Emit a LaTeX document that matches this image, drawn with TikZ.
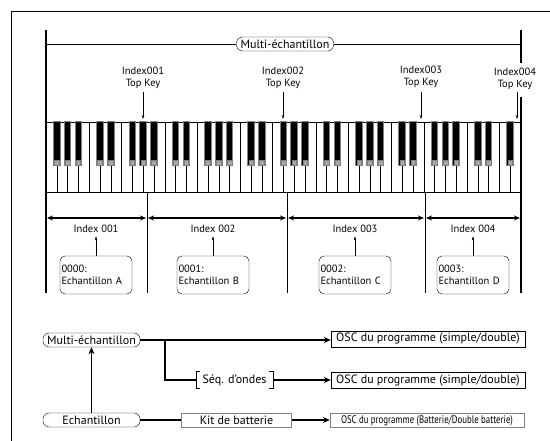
\documentclass[tikz,border=0pt]{standalone}
\usepackage{fontspec}
\setmainfont{PT Sans}
\usetikzlibrary{arrows.meta,positioning}

\begin{document}
\begin{tikzpicture}[x=1pt,y=-1pt,font=\fontsize{10.5}{12}\selectfont,
      pill/.style={draw,rounded corners=6pt,minimum width=97pt,minimum height=14pt,inner sep=1pt,
      font=\fontsize{12}{13}\selectfont},
      smpbox/.style={draw,rounded corners=5pt,align=left,text width=69pt,minimum width=72pt,
      minimum height=38pt,inner sep=1.5pt},
      oscbox/.style={draw,minimum width=194pt,minimum height=16pt,inner sep=1pt,
      font=\fontsize{12}{13}\selectfont},
      topkey/.style={align=center,inner sep=1pt},
      thinarr/.style={thin,-{Stealth[length=4pt,width=2.5pt]}},
      dblarr/.style={line width=1.5pt,{Stealth[length=6pt,width=5pt]}-{Stealth[length=6pt,width=5pt]}},
      link/.style={line width=1.6pt},
      linkarr/.style={line width=1.6pt,-{Stealth[length=7pt,width=6pt]}}]

    \useasboundingbox (0,0) rectangle (550,441);
    \draw[semithick] (11,441) -- (11,11) -- (550,11);

    % multi-sample span
    \node[pill] (mtop) at (285,44) {Multi-échantillon};
    \draw[semithick] (46,44) -- (mtop) -- (521,44);
    \draw[line width=2pt] (46,30) -- (46,293);
    \draw[line width=2pt] (521,30) -- (521,63) (521,97) -- (521,293);

    % top keys
    \foreach \x/\n/\y in {143/001/78,283/002/78,421/003/77,515/004/79}
      \node[topkey] (tk\n) at (\x,\y) {Index\n\\Top Key};
    \foreach \x/\n in {143/001,283/002,421/003,517/004}
      \draw[thinarr] (\x,92) -- (\x,119);

    % keyboard
    \def\kw{10.795}
    \draw[semithick] (46,122) rectangle (521,192);
    \foreach \i in {1,...,43}
      \draw[thin] (46+\i*\kw,122) -- (46+\i*\kw,192);
    \foreach \i in {1,...,43}{
      \pgfmathtruncatemacro\nt{mod(\i-1,7)}
      \ifnum\nt=3 \else \ifnum\nt=6 \else
        \filldraw[fill=black,draw=gray,line width=1pt] (46+\i*\kw-3.3,122) rectangle (46+\i*\kw+3.3,166);
        \filldraw[fill=gray!70,draw=gray] (46+\i*\kw-2.3,160) rectangle (46+\i*\kw+2.3,165);
      \fi\fi
    }

    % index ranges
    \foreach \x in {147,287,425}
      \draw[thin] (\x,192) -- (\x,293);
    \foreach \a/\b/\c/\n/\s/\t in {47/146/96/1/0000/A,148/286/213/2/0001/B,288/424/355/3/0002/C,426/520/473/4/0003/D}{
      \draw[dblarr] (\a,218) -- (\b,218);
      \node (idx\n) at (\c,229) {Index 00\n};
      \node[smpbox] (smp\n) at (\c,275) {\s:\\Echantillon \t};
      \draw[thinarr] (smp\n) -- (idx\n);
    }

    % lower chart
    \node[pill] (multi) at (91.5,340) {Multi-échantillon};
    \node[pill] (ech) at (91.5,420) {Echantillon};
    \node[oscbox] (osc1) at (428,339) {OSC du programme (simple/double)};
    \node[oscbox] (osc2) at (428,380.5) {OSC du programme (simple/double)};
    \node[oscbox,draw=gray,minimum height=14pt] (osc3) at (427,420.5)
      {\fontsize{11}{12}\selectfont\scalebox{0.8}[1]{OSC du programme (Batterie/Double batterie)}};
    \node[draw=gray,minimum width=110pt,minimum height=14pt,inner sep=1pt,
      font=\fontsize{12}{13}\selectfont] (kit) at (236.5,420) {Kit de batterie};
    \node[minimum width=77pt,minimum height=17pt,inner sep=1pt,
      font=\fontsize{12}{13}\selectfont] (seq) at (234.5,380) {Séq. d’ondes};
    \draw[thin] ([xshift=4pt]seq.north west) -- (seq.north west) -- (seq.south west) -- ++(4,0);
    \draw[thin] ([xshift=-4pt]seq.north east) -- (seq.north east) -- (seq.south east) -- ++(-4,0);
    \coordinate (br) at (165,340);

    \draw[linkarr] (multi.east) -- (multi.east -| osc1.west);
    \draw[link] (br) |- (seq.west);
    \draw[linkarr] (seq.east) -- (seq.east -| osc2.west);
    \draw[linkarr] (ech) -- (multi);
    \draw[link] (ech) -- (kit);
    \draw[linkarr] (kit) -- (kit -| osc3.west);
\end{tikzpicture}
\end{document}
